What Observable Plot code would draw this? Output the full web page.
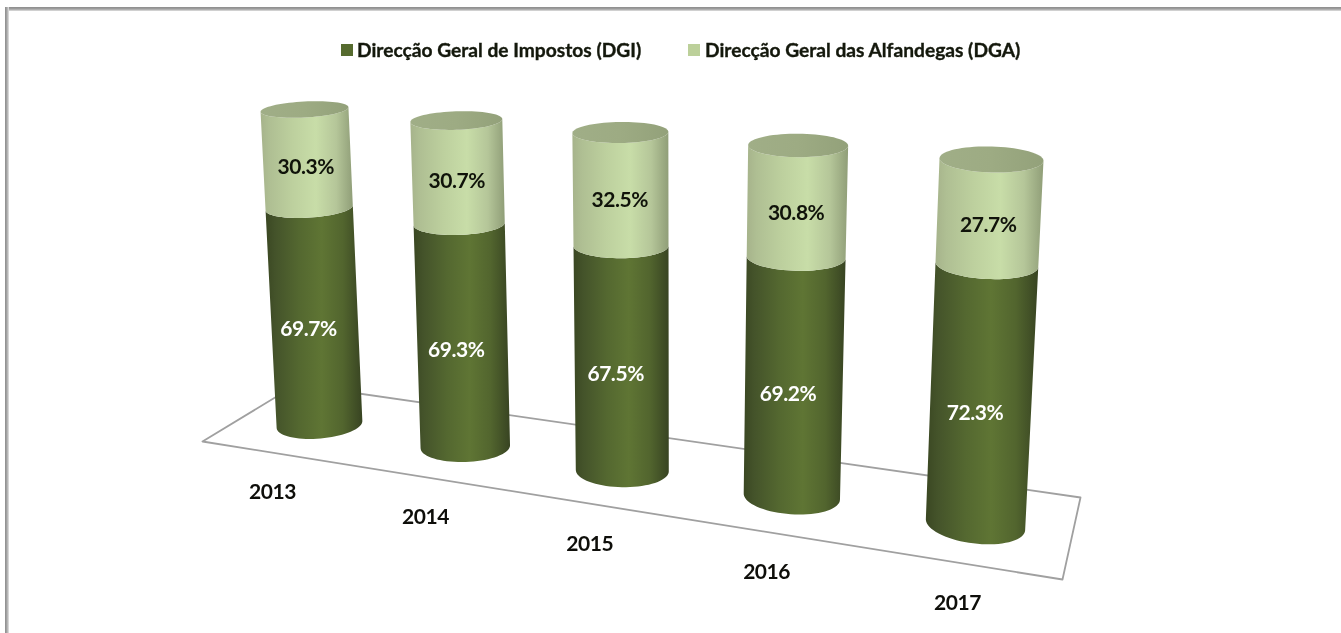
<!DOCTYPE html>
<html><head><meta charset="utf-8">
<style>
html,body{margin:0;padding:0;background:#fff}
#page{position:relative;width:1341px;height:633px;overflow:hidden;background:#fff}
.bandT{position:absolute;left:5px;right:0;top:7px;height:4px;background:linear-gradient(#8c8c8c,#a0a0a0 50%,#e0e0e0)}
.bandL{position:absolute;left:5px;top:7px;bottom:0;width:4px;background:linear-gradient(90deg,#8c8c8c,#a8a8a8 50%,#e6e6e6)}
#legend{position:absolute;left:0;top:0;width:1341px;height:80px;font:700 19.2px Lato,sans-serif;color:#14180c;-webkit-text-stroke:.35px #14180c;filter:blur(.5px)}
.sw{position:absolute;top:44px;width:12px;height:12px}
.lb{position:absolute;top:39px;line-height:22px;white-space:nowrap}
#chart{position:absolute;left:0;top:80px;filter:blur(.55px)}
#chart svg{display:block;background:transparent}
#chart text{letter-spacing:-.45px}
</style>
<script src="https://cdn.jsdelivr.net/npm/d3@7"></script>
<script src="https://cdn.jsdelivr.net/npm/@observablehq/plot@0.6"></script>
</head><body>
<div id="page">
  <div class="bandT"></div><div class="bandL"></div>
  <div id="legend"></div>
  <div id="chart"></div>
</div>
<script>
// ---- data ----
const years = ["2013","2014","2015","2016","2017"];
const dgi = [69.7,69.3,67.5,69.2,72.3];
const dga = [30.3,30.7,32.5,30.8,27.7];
const seriesNames = ["Direcção Geral de Impostos (DGI)","Direcção Geral das Alfandegas (DGA)"];
const seriesColors = ["#566b2f","#bcd09a"];

// ---- 3D view: the oblique camera of the original chart ----
const W = 1341, H = 633, legendH = 80;
function homography(p0,p1,p2,p3){ // unit square (0,0)(1,0)(1,1)(0,1) -> quad
  const dx1=p1[0]-p2[0],dx2=p3[0]-p2[0],sx=p0[0]-p1[0]+p2[0]-p3[0];
  const dy1=p1[1]-p2[1],dy2=p3[1]-p2[1],sy=p0[1]-p1[1]+p2[1]-p3[1];
  const den=dx1*dy2-dx2*dy1;
  const g=(sx*dy2-dx2*sy)/den,h=(dx1*sy-sx*dy1)/den;
  const a=p1[0]-p0[0]+g*p1[0],b=p3[0]-p0[0]+h*p3[0];
  const d=p1[1]-p0[1]+g*p1[1],e=p3[1]-p0[1]+h*p3[1];
  return (u,v)=>{const w=1+g*u+h*v;return [(p0[0]+a*u+b*v)/w,(p0[1]+d*u+e*v)/w];};
}
const wall = homography([319,424],[975,524],[991,159],[304,109]);
const floorView = homography([202,441],[1062,579],[1080,497],[296,384]);
const n = years.length;
const lerp=(a,b,t)=>a+(b-a)*t;
const bil=(b0,b1,t0,t1,i,v)=>lerp(lerp(b0,b1,i/(n-1)),lerp(t0,t1,i/(n-1)),v/100);
const axis=(i,v)=>wall(i/(n-1),v/100);
const rx=(i,v)=>bil(43,50,44,52,i,v);
const ry=(i,v)=>bil(14,19,8,13,i,v);
const tilt=(i,v)=>bil(-5,7,-3,1.5,i,v)*Math.PI/180;
function rim(i,v,th){
  const [cx,cy]=axis(i,v),a=rx(i,v),b=ry(i,v),t=tilt(i,v);
  const c=Math.cos(th)*a,s=Math.sin(th)*b;
  return [cx+c*Math.cos(t)-s*Math.sin(t),cy+c*Math.sin(t)+s*Math.cos(t)];
}
const steps=d3.range(0,37);
function segment(i,v0,v1,key){
  const low=steps.map(k=>rim(i,v0,Math.PI*(1-k/36)));
  const up=steps.map(k=>rim(i,v1,Math.PI*k/36));
  return [...low,...up].map(([px,py])=>({px,py,key}));
}
const darkRows=years.flatMap((y,i)=>segment(i,0,dgi[i],y));
const lightRows=years.flatMap((y,i)=>segment(i,dgi[i],dgi[i]+dga[i],y));
const capRows=years.flatMap((y,i)=>d3.range(0,73).map(k=>{
  const [px,py]=rim(i,dgi[i]+dga[i],2*Math.PI*k/72);return {px,py,key:y};}));
const floorRows=[[0,0],[1,0],[1,1],[0,1],[0,0]].map(([u,d])=>{const [px,py]=floorView(u,d);return {px,py};});

const valueRows=years.flatMap((y,i)=>{
  const a=dgi[i]/2,b=dgi[i]+dga[i]/2;
  const [x1,y1]=axis(i,a),[x2,y2]=axis(i,b);
  return [
    {px:x1-6,py:y1+ry(i,a),t:dgi[i].toFixed(1)+"%",s:0},
    {px:x2-1,py:y2+ry(i,b)-1,t:dga[i].toFixed(1)+"%",s:1}];
});
const yearRows=years.map((y,i)=>{
  const [x,yy]=axis(i,0);
  return {px:x+lerp(-46,-17,i/(n-1))-1,py:yy+lerp(68,79,i/(n-1)),t:y};
});

// ---- gradients for the cylinder shading ----
function defs(){
  const d=d3.create("svg:defs");
  const add=(id,stops)=>{
    const g=d.append("linearGradient").attr("id",id).attr("x1",0).attr("x2",1).attr("y1",0).attr("y2",0);
    stops.forEach(([o,c])=>g.append("stop").attr("offset",o).attr("stop-color",c));
  };
  add("gDark",[[0,"#3a4722"],[.1,"#44532a"],[.35,"#546830"],[.58,"#5f7534"],[.8,"#52652e"],[1,"#384422"]]);
  add("gLight",[[0,"#a6b38b"],[.1,"#afbf93"],[.35,"#bdd09e"],[.6,"#c8dda8"],[.82,"#b5c699"],[1,"#909e78"]]);
  add("gCap",[[0,"#a0ae87"],[.5,"#9dab83"],[1,"#93a17a"]]);
  return d.node();
}

const plot=Plot.plot({
  width:W,height:H-legendH,margin:0,
  x:{domain:[0,W],range:[0,W],axis:null},
  y:{domain:[legendH,H],range:[0,H-legendH],axis:null},
  marks:[
    defs,
    Plot.line(floorRows,{x:"px",y:"py",stroke:"#a0a0a0",strokeWidth:1.8}),
    Plot.line(darkRows,{x:"px",y:"py",z:"key",fill:"url(#gDark)",stroke:"none"}),
    Plot.line(lightRows,{x:"px",y:"py",z:"key",fill:"url(#gLight)",stroke:"none"}),
    Plot.line(capRows,{x:"px",y:"py",z:"key",fill:"url(#gCap)",stroke:"none"}),
    Plot.text(valueRows.filter(d=>d.s===0),{x:"px",y:"py",text:"t",fill:"#ffffff",fontSize:21,fontWeight:700,fontFamily:"Lato"}),
    Plot.text(valueRows.filter(d=>d.s===1),{x:"px",y:"py",text:"t",fill:"#10130a",fontSize:21,fontWeight:700,fontFamily:"Lato"}),
    Plot.text(yearRows,{x:"px",y:"py",text:"t",fill:"#0e0e0a",fontSize:21,fontWeight:700,fontFamily:"Lato"})
  ]
});
document.getElementById("chart").append(plot);

const legend=document.getElementById("legend");
const legendAt=[[341,357],[688,705]];
seriesNames.forEach((name,k)=>{
  const s=document.createElement("div");s.className="sw";s.style.left=legendAt[k][0]+"px";s.style.background=seriesColors[k];
  const l=document.createElement("div");l.className="lb";l.style.left=legendAt[k][1]+"px";l.textContent=name;
  legend.append(s,l);
});
</script>
</body></html>
